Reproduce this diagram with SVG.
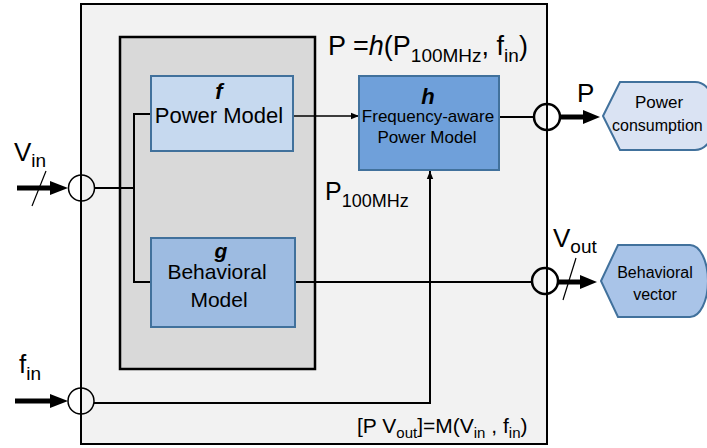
<svg xmlns="http://www.w3.org/2000/svg" width="707" height="448" viewBox="0 0 707 448">
<style>
text{font-family:"Liberation Sans",Arial,sans-serif;fill:#000}
.blk{fill:none;stroke:#000;stroke-width:2}
.thin{fill:none;stroke:#000;stroke-width:1.5}
.thick{fill:none;stroke:#000;stroke-width:5}
.mod{stroke:#41719c;stroke-width:2}
.bi{font-weight:bold;font-style:italic}
</style>
<defs>
<marker id="sm" viewBox="0 0 10 10" refX="10" refY="5" markerWidth="8" markerHeight="8" markerUnits="userSpaceOnUse" orient="auto">
<path d="M0,1 L10,5 L0,9 Z" fill="#000"/>
</marker>
</defs>

<g id="outer-box">
<rect x="81" y="4" width="466" height="440" fill="#f2f2f2" stroke="#000" stroke-width="2"/>
</g>
<g id="inner-box">
<rect x="120" y="37" width="195" height="332" fill="#d9d9d9" stroke="#000" stroke-width="2.5"/>
</g>

<g id="connectors">
<polyline class="blk" points="95,188 134,188"/>
<polyline class="blk" points="151,114 134,114 134,282 151,282"/>
<line class="thin" x1="293" y1="116" x2="359" y2="116" marker-end="url(#sm)"/>
<line class="blk" x1="499" y1="117" x2="534" y2="117"/>
<line class="blk" x1="295" y1="282" x2="532" y2="282"/>
<polyline class="blk" points="94,403 430,403 430,171" marker-end="url(#sm)"/>
<line class="thick" x1="17" y1="188" x2="52" y2="188"/>
<polygon points="50,181 68,188 50,195" fill="#000"/>
<line x1="32" y1="206" x2="46" y2="171" stroke="#000" stroke-width="1.2"/>
<line class="thick" x1="15" y1="401" x2="52" y2="401"/>
<polygon points="50,394 68,401 50,408" fill="#000"/>
<line class="thick" x1="560" y1="117" x2="585" y2="117"/>
<polygon points="583,110 600,117 583,124" fill="#000"/>
<line class="thick" x1="558" y1="282" x2="582" y2="282"/>
<polygon points="580,275 597,282 580,289" fill="#000"/>
<line x1="563" y1="300" x2="576" y2="258" stroke="#000" stroke-width="1.2"/>
</g>

<g id="port-vin"><circle cx="81.5" cy="188" r="13" fill="none" stroke="#000" stroke-width="1.5"/></g>
<g id="port-fin"><circle cx="81" cy="401" r="13" fill="none" stroke="#000" stroke-width="1.5"/></g>
<g id="port-p"><circle cx="547" cy="117" r="13" fill="none" stroke="#000" stroke-width="2.5"/></g>
<g id="port-vout"><circle cx="545" cy="281" r="13" fill="none" stroke="#000" stroke-width="2.5"/></g>

<g id="node-f">
<rect class="mod" x="151" y="76" width="142" height="75" fill="#c6d9ef"/>
<text x="219" y="99" font-size="22" class="bi" text-anchor="middle">f</text>
<text x="219" y="123" font-size="22" text-anchor="middle">Power Model</text>
</g>
<g id="node-g">
<rect class="mod" x="151" y="238" width="144" height="89" fill="#9dbbe1"/>
<text x="221" y="258" font-size="21" class="bi" text-anchor="middle">g</text>
<text x="217" y="279" font-size="21" text-anchor="middle">Behavioral</text>
<text x="219" y="307" font-size="21" text-anchor="middle">Model</text>
</g>
<g id="node-h">
<rect class="mod" x="359" y="76" width="140" height="94" fill="#6fa0da"/>
<text x="428" y="104" font-size="22" class="bi" text-anchor="middle">h</text>
<text x="428" y="122" font-size="17" text-anchor="middle">Frequency-aware</text>
<text x="427" y="143" font-size="17" text-anchor="middle">Power Model</text>
</g>
<g id="node-power-consumption">
<path d="M603,116 L620,82 H695 A22 34 0 0 1 695,150 H620 Z" fill="#dae3f3" stroke="#41719c" stroke-width="2"/>
<text x="659" y="108" font-size="17" text-anchor="middle">Power</text>
<text x="612" y="131" font-size="16">consumption</text>
</g>
<g id="node-behavioral-vector">
<path d="M601,281 L618,245 H690 A18 36 0 0 1 690,317 H618 Z" fill="#a9c4e8" stroke="#41719c" stroke-width="2"/>
<text x="655" y="278" font-size="16" text-anchor="middle">Behavioral</text>
<text x="655" y="300" font-size="16" text-anchor="middle">vector</text>
</g>

<g id="labels">
<text x="14" y="161" font-size="26">V<tspan font-size="19" dy="6">in</tspan></text>
<text x="19" y="373" font-size="26">f<tspan font-size="19" dy="7">in</tspan></text>
<text x="577" y="102" font-size="26">P</text>
<text x="553" y="247" font-size="26">V<tspan font-size="19" dy="6">out</tspan></text>
<text x="325" y="200" font-size="25">P<tspan font-size="18" dy="7">100MHz</tspan></text>
<text x="328" y="55" font-size="27">P =<tspan font-style="italic">h</tspan>(P<tspan font-size="19" dy="7">100MHz</tspan><tspan dy="-7">, f</tspan><tspan font-size="19" dy="7">in</tspan><tspan dy="-7">)</tspan></text>
<text x="357" y="433" font-size="21">[P V<tspan font-size="15" dy="5">out</tspan><tspan dy="-5">]=M(V</tspan><tspan font-size="15" dy="5">in</tspan><tspan dy="-5"> , f</tspan><tspan font-size="15" dy="5">in</tspan><tspan dy="-5">)</tspan></text>
</g>
</svg>
